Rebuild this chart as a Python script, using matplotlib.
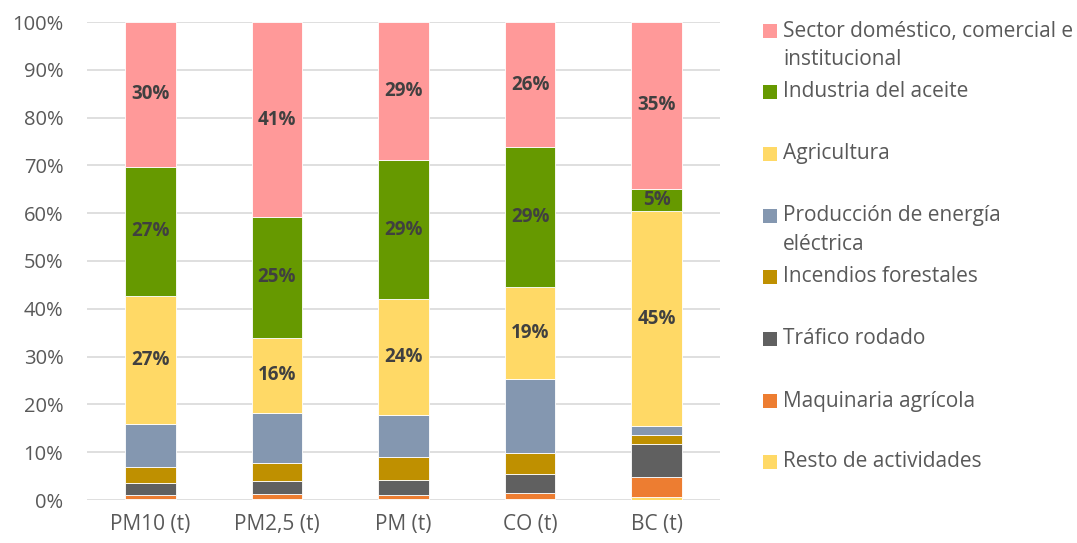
import numpy as np
import matplotlib.pyplot as plt
from matplotlib.patches import Rectangle

plt.rcParams['font.family'] = ['Open Sans', 'DejaVu Sans']

categorias = ['PM10 (t)', 'PM2,5 (t)', 'PM (t)', 'CO (t)', 'BC (t)']

# porcentaje de cada sector por contaminante (de abajo a arriba)
resto = [0.3, 0.2, 0.2, 0.2, 0.7]
maquinaria = [0.8, 1.1, 0.85, 1.25, 4.1]
trafico = [2.5, 2.7, 3.2, 4.05, 7.0]
incendios = [3.4, 3.8, 4.65, 4.4, 1.9]
produccion = [9.0, 10.4, 8.8, 15.4, 1.8]
agricultura = [26.7, 15.7, 24.3, 19.2, 44.9]
industria = [27.0, 25.3, 29.1, 29.3, 4.7]
sector = [30.3, 40.8, 28.9, 26.2, 34.9]

series = [
    ('Resto de actividades', resto, '#FFD966', False),
    ('Maquinaria agrícola', maquinaria, '#ED7D31', False),
    ('Tráfico rodado', trafico, '#606060', False),
    ('Incendios forestales', incendios, '#BF9000', False),
    ('Producción de energía\neléctrica', produccion, '#8497B0', False),
    ('Agricultura', agricultura, '#FFD966', True),
    ('Industria del aceite', industria, '#669900', True),
    ('Sector doméstico, comercial e\ninstitucional', sector, '#FF9999', True),
]

W, H = 1077, 543
fig = plt.figure(figsize=(W / 100, H / 100), dpi=100)
ax = fig.add_axes([87 / W, 1 - 500 / H, (720 - 87) / W, (500 - 22) / H])

x = np.arange(len(categorias))
base = np.zeros(len(categorias))
for nombre, vals, color, etiqueta in series:
    vals = np.array(vals)
    ax.bar(x, vals, 0.4, bottom=base, color=color, edgecolor='white', linewidth=0.6, zorder=3)
    if etiqueta:
        for xi, b, v in zip(x, base, vals):
            ax.text(xi, b + v / 2, f'{v:.0f}%', ha='center', va='center',
                    fontsize=13.5, fontweight='bold', color='#404040', zorder=4)
    base += vals

ax.set_xlim(-0.5, len(categorias) - 0.5)
ax.set_ylim(0, 100)
ax.set_yticks(np.arange(0, 101, 10))
ax.set_yticklabels([f'{t}%' for t in range(0, 101, 10)])
ax.set_xticks(x)
ax.set_xticklabels(categorias)
ax.tick_params(axis='both', length=0, labelcolor='#595959')
ax.tick_params(axis='y', pad=17, labelsize=14.5)
ax.tick_params(axis='x', pad=10, labelsize=15)
ax.yaxis.grid(True, color='#D9D9D9', linewidth=1.2, zorder=0)
for s in ax.spines.values():
    s.set_visible(False)

# leyenda a la derecha
ys = [31, 91.7, 153.7, 215.7, 276.7, 339, 401, 461.7]
for (nombre, vals, color, _), yp in zip(series[::-1], ys):
    fig.patches.append(Rectangle((763 / W, 1 - (yp + 7) / H), 14 / W, 14 / H,
                                 transform=fig.transFigure, facecolor=color, edgecolor='none'))
    for k, linea in enumerate(nombre.split('\n')):
        fig.text(783 / W, 1 - (yp + 29 * k) / H, linea, ha='left', va='center',
                 fontsize=15, color='#595959')

fig.savefig('out.png', dpi=100)
